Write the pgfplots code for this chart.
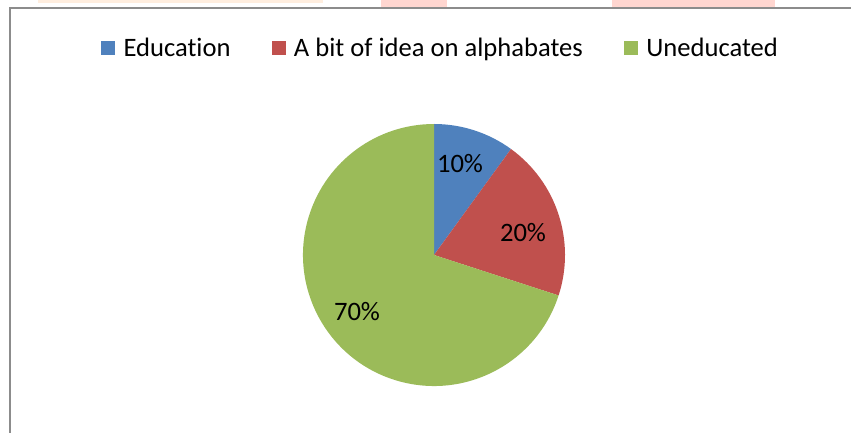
\documentclass[border=0pt]{standalone}
\usepackage{pgfplots}
\usepackage{pgfplotstable}
\usepackage{fontspec}
\setmainfont{Carlito}[Ligatures=NoCommon]
\pgfplotsset{compat=1.18}
\definecolor{educ}{HTML}{4F81BD}
\definecolor{bit}{HTML}{C0504D}
\definecolor{unedu}{HTML}{9BBB59}
\definecolor{framegray}{RGB}{140,140,140}
\definecolor{wmorange}{HTML}{FFEEDF}
\definecolor{wmpink}{HTML}{FFD6D0}
\pgfplotstableread{
label value
Education 10
Bit 20
Uneducated 70
}\piedata
\pgfplotstablegetelem{0}{value}\of\piedata \xdef\va{\pgfplotsretval}
\pgfplotstablegetelem{1}{value}\of\piedata \xdef\vb{\pgfplotsretval}
\pgfplotstablegetelem{2}{value}\of\piedata \xdef\vc{\pgfplotsretval}
\pgfmathsetmacro{\aA}{90-3.6*\va}\xdef\aA{\aA}
\pgfmathsetmacro{\aB}{\aA-3.6*\vb}\xdef\aB{\aB}
\pgfmathsetmacro{\aC}{\aB-3.6*\vc}\xdef\aC{\aC}
\begin{document}
\begin{tikzpicture}
\begin{axis}[
  x=1pt, y=1pt,
  xmin=0, xmax=851, ymin=0, ymax=433,
  hide axis,
  clip=true,
  legend columns=3,
  legend style={at={(axis cs:440,385)}, anchor=center, draw=none, fill=none,
    font=\fontsize{26.6}{31}\selectfont,
    /tikz/every odd column/.append style={column sep=8pt},
    /tikz/every even column/.append style={column sep=40pt},
    nodes={inner sep=1pt}},
  legend image code/.code={\fill[#1] (0pt,-6.5pt) rectangle (13pt,6.5pt);},
]
\coordinate (ll) at (axis cs:0,0);
\coordinate (ur) at (axis cs:851,433);
% watermark strips and frame
\fill[wmorange] (axis cs:38,430) rectangle (axis cs:323,440);
\fill[wmpink] (axis cs:381,426) rectangle (axis cs:447,440);
\fill[wmpink] (axis cs:612,426) rectangle (axis cs:775,440);
\draw[framegray, line width=2pt] (axis cs:9.5,-10) |- (axis cs:900,424.5);
% pie
\fill[educ] (axis cs:434,178) -- ++(90:131pt) arc[start angle=90, end angle=\aA, radius=131pt] -- cycle;
\fill[bit] (axis cs:434,178) -- ++(\aA:131pt) arc[start angle=\aA, end angle=\aB, radius=131pt] -- cycle;
\fill[unedu] (axis cs:434,178) -- ++(\aB:131pt) arc[start angle=\aB, end angle=\aC, radius=131pt] -- cycle;
\node[font=\fontsize{26.6}{31}\selectfont] at (axis cs:460,269) {\va\%};
\node[font=\fontsize{26.6}{31}\selectfont] at (axis cs:523,200) {\vb\%};
\node[font=\fontsize{26.6}{31}\selectfont] at (axis cs:357,121) {\vc\%};
\addlegendimage{educ}\addlegendentry{Education}
\addlegendimage{bit}\addlegendentry{A bit of idea on alphabates}
\addlegendimage{unedu}\addlegendentry{Uneducated}
\end{axis}
\pgfresetboundingbox
\useasboundingbox (ll) rectangle (ur);
\end{tikzpicture}
\end{document}
